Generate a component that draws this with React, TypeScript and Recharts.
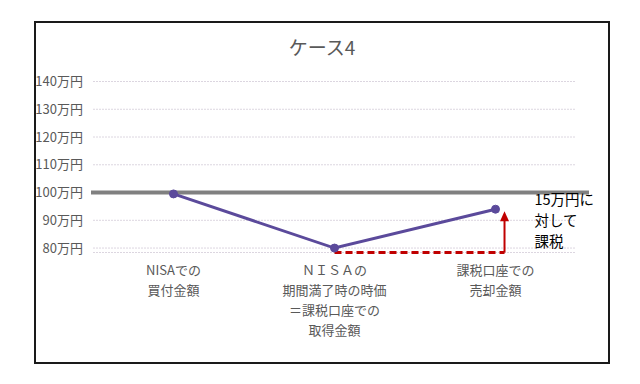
import { LineChart, Line, XAxis, YAxis, CartesianGrid, ReferenceLine } from "recharts";

// category labels, one array of lines per category
const categoryLines = [
  ["NISAでの", "買付金額"],
  ["ＮＩＳＡの", "期間満了時の時価", "＝課税口座での", "取得金額"],
  ["課税口座での", "売却金額"],
];
const categoryX = [0, 1, 2];
const values = [99.5, 80, 94];
const yTicks = [80, 90, 100, 110, 120, 130, 140];

// dashed red base line and the arrow showing the taxed gain
const taxBaseX = [1, 2.056];
const taxBaseValue = 78.4;
const arrowX = 2.056;
const arrowTop = 93.3;
const noteLines = ["15万円に", "対して", "課税"];
const baseLevel = 100;

const FONT = '"Noto Sans CJK JP", "Noto Sans", sans-serif';

const chartData = categoryX.map((x, i) => ({ x, value: values[i] }));
const taxBaseData = taxBaseX.map((x) => ({ x, base: taxBaseValue }));

const CategoryTick = (props: any) => {
  const { x, y, payload } = props;
  const lines = categoryLines[payload.value] || [];
  return (
    <text x={x} y={y} textAnchor="middle" fill="#595959" fontSize={13} fontFamily={FONT}>
      {lines.map((l, i) => (
        <tspan key={i} x={x} dy={i === 0 ? 22.5 : 20}>
          {l}
        </tspan>
      ))}
    </text>
  );
};

const BaseLine = (props: any) => {
  const { x1, x2, y1 } = props;
  return <line x1={x1 - 2} x2={x2 + 13} y1={y1} y2={y1} stroke="#808080" strokeWidth={4} />;
};

const Arrow = (props: any) => {
  const { x1, y1, x2, y2 } = props;
  return (
    <g>
      <line x1={x1} y1={y1} x2={x2} y2={y2 + 8} stroke="#c00000" strokeWidth={2} />
      <polygon points={`${x2},${y2} ${x2 - 4.5},${y2 + 10} ${x2 + 4.5},${y2 + 10}`} fill="#c00000" />
      {noteLines.map((l, i) => (
        <text key={i} x={x2 + 30} y={y2 - 6 + i * 21} fontSize={14.5} fill="#000" fontFamily={FONT}>
          {l}
        </text>
      ))}
    </g>
  );
};

export default function App() {
  return (
    <div style={{ position: "absolute", left: 0, top: 0, width: 640, height: 384, background: "#fff", fontFamily: FONT }}>
      <div
        style={{
          position: "absolute",
          left: 34,
          top: 21,
          width: 576,
          height: 343,
          border: "2px solid #1a1a1a",
          boxSizing: "border-box",
        }}
      />
      <div
        style={{
          position: "absolute",
          left: 222,
          top: 33,
          width: 200,
          textAlign: "center",
          fontSize: 19,
          color: "#595959",
          lineHeight: "27px",
        }}
      >
        ケース4
      </div>
      <LineChart
        width={640}
        height={384}
        data={chartData}
        margin={{ top: 81.5, right: 64, left: 33, bottom: 51.5 }}
        style={{ position: "absolute", left: 0, top: 0 }}
      >
        <CartesianGrid vertical={false} stroke="#dcd6e0" strokeDasharray="2 1" />
        <XAxis
          type="number"
          dataKey="x"
          domain={[-0.5, 2.5]}
          ticks={categoryX}
          interval={0}
          tick={<CategoryTick />}
          axisLine={false}
          tickLine={false}
          tickSize={0}
          tickMargin={0}
          height={80}
        />
        <YAxis
          domain={[80, 140]}
          ticks={yTicks}
          interval={0}
          width={60}
          axisLine={false}
          tickLine={false}
          tickSize={0}
          tickMargin={10}
          tickFormatter={(v) => `${v}万円`}
          tick={{ fill: "#595959", fontSize: 13, fontFamily: FONT }}
        />
        <ReferenceLine y={baseLevel} shape={<BaseLine />} />
        <Line
          data={taxBaseData}
          dataKey="base"
          stroke="#c00000"
          strokeWidth={3}
          strokeDasharray="7 4"
          dot={false}
          isAnimationActive={false}
        />
        <Line
          dataKey="value"
          stroke="#5b4a9b"
          strokeWidth={3}
          dot={{ r: 4, fill: "#5b4a9b", stroke: "#5b4a9b", strokeWidth: 1 }}
          isAnimationActive={false}
        />
        <ReferenceLine
          segment={[
            { x: arrowX, y: taxBaseValue },
            { x: arrowX, y: arrowTop },
          ]}
          shape={<Arrow />}
        />
      </LineChart>
    </div>
  );
}
